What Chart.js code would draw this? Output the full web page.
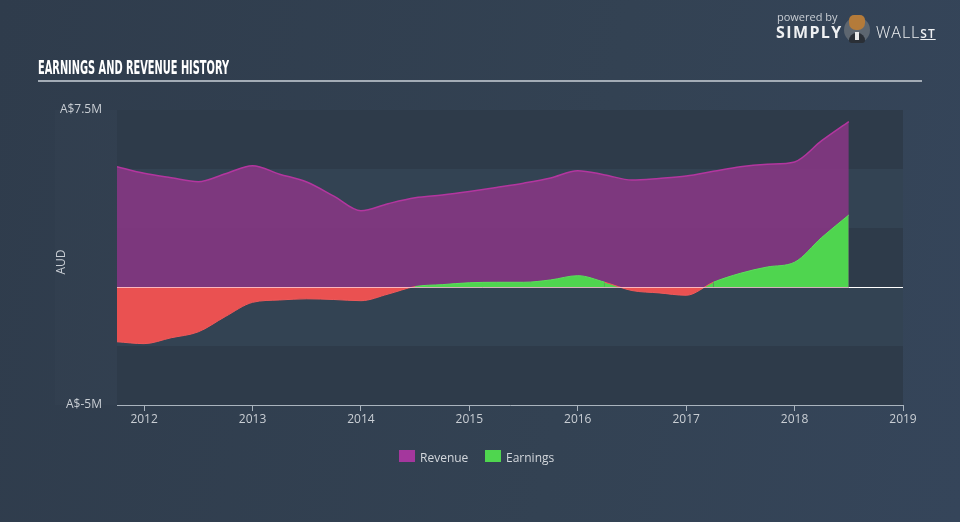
<!DOCTYPE html>
<html>
<head>
<meta charset="utf-8">
<script src="https://cdn.jsdelivr.net/npm/chart.js@4/dist/chart.umd.min.js"></script>
<style>
  html,body{margin:0;padding:0;}
  body{width:960px;height:522px;overflow:hidden;position:relative;
       background:linear-gradient(100deg,#2f3c4c 0%,#334253 60%,#35455a 100%);
       font-family:"Open Sans",sans-serif;}
  #wrap{position:absolute;left:0;top:0;width:960px;height:522px;}
  #title{position:absolute;left:38px;top:56px;font-family:"DejaVu Sans Condensed","DejaVu Sans";font-weight:bold;
         font-size:19px;color:#ffffff;white-space:nowrap;transform-origin:0 0;letter-spacing:0px;}
  #rule{position:absolute;left:38px;top:80px;width:884px;height:2px;background:#a3acb6;}
  .leg{position:absolute;top:449px;font-size:12px;color:#d3d7dc;font-family:"Open Sans",sans-serif;}
  .box{position:absolute;top:450px;width:16px;height:12px;}
  #logo1{position:absolute;left:777px;top:9px;font-size:11px;color:#c9ced4;font-family:"Open Sans",sans-serif;}
  #logo2{position:absolute;left:776px;top:21px;font-size:16px;font-weight:bold;color:#eef0f2;font-family:"Open Sans",sans-serif;letter-spacing:1.4px;}
  #logo3{position:absolute;left:876px;top:21px;font-size:16px;font-weight:300;color:#eef0f2;font-family:"Open Sans",sans-serif;letter-spacing:1px;}
  #bull{position:absolute;left:844px;top:17px;width:26px;height:26px;border-radius:50%;background:#5d6670;}
  #suit{position:absolute;left:849px;top:33px;width:16px;height:10px;border-radius:8px 8px 3px 3px;background:#2a2f36;}
  #shirt{position:absolute;left:855px;top:32px;width:4px;height:8px;background:#e9e9e9;}
  #bullhead{position:absolute;left:849px;top:15px;width:16px;height:15px;border-radius:5px 5px 7px 7px;background:#b47b3a;}
</style>
</head>
<body>
<div id="wrap"><canvas id="c" width="960" height="522"></canvas></div>
<div id="title">EARNINGS AND REVENUE HISTORY</div>
<div id="rule"></div>
<div id="logo1">powered by</div>
<div id="logo2">SIMPLY</div>
<div id="bull"></div><div id="suit"></div><div id="shirt"></div><div id="bullhead"></div>
<div id="logo3">WALL<span style="font-size:12px;font-weight:600;text-decoration:underline;">ST</span></div>
<div class="box" style="left:399px;background:#a4379d;"></div>
<div class="leg" style="left:420px;">Revenue</div>
<div class="box" style="left:485px;background:#4fd64f;"></div>
<div class="leg" style="left:506px;">Earnings</div>
<script>
// ---- data (AUD millions) ----
const periods = [2011.75,2012.0,2012.25,2012.5,2012.75,2013.0,2013.25,2013.5,2013.75,2014.0,
                 2014.25,2014.5,2014.75,2015.0,2015.25,2015.5,2015.75,2016.0,2016.25,2016.5,
                 2016.75,2017.0,2017.25,2017.5,2017.75,2018.0,2018.25,2018.5];
const revenue  = [5.10,4.82,4.63,4.46,4.80,5.14,4.78,4.45,3.85,3.23,
                  3.53,3.78,3.90,4.05,4.22,4.40,4.62,4.93,4.75,4.53,
                  4.60,4.70,4.90,5.10,5.20,5.30,6.20,7.01];
const earnings = [-2.32,-2.40,-2.15,-1.90,-1.25,-0.65,-0.55,-0.50,-0.53,-0.58,
                  -0.30,0.02,0.10,0.18,0.20,0.20,0.30,0.48,0.20,-0.15,
                  -0.25,-0.35,0.20,0.58,0.85,1.05,2.10,3.05];
const yearTicks = [2012,2013,2014,2015,2016,2017,2018,2019];
const yTicks = [-5,-2.5,0,2.5,5,7.5];
const yLabels = {"7.5":"A$7.5M","-5":"A$-5M"};

// fit title width
(function(){
  const t=document.getElementById('title');
  const w=t.getBoundingClientRect().width;
  t.style.transform='scaleX('+(191/w)+')';
})();

const bands = {
  id:'bands',
  beforeDraw(chart){
    const {ctx,chartArea:a,scales:{y}}=chart;
    ctx.save();
    ctx.fillStyle='rgba(255,255,255,0.012)';
    ctx.fillRect(55,a.top,a.left-55,a.bottom-a.top);
    for(let i=0;i<yTicks.length-1;i++){
      const y0=y.getPixelForValue(yTicks[i+1]), y1=y.getPixelForValue(yTicks[i]);
      ctx.fillStyle = (i%2===0)?'#2e3b4a':'#334353';
      ctx.fillRect(a.left,y0,a.right-a.left,y1-y0);
    }
    // AUD label
    ctx.translate(62,262);
    ctx.rotate(-Math.PI/2);
    ctx.fillStyle='#c9ced4';
    ctx.font='12px "Open Sans"';
    ctx.textAlign='center';ctx.textBaseline='middle';
    ctx.fillText('AUD',0,0);
    ctx.restore();
  },
  afterDatasetsDraw(chart){
    const {ctx,chartArea:a,scales:{x,y}}=chart;
    const yz=Math.round(y.getPixelForValue(0))+0.5;
    const xe=x.getPixelForValue(periods[periods.length-1]);
    ctx.save();
    ctx.lineWidth=1;
    ctx.strokeStyle='rgba(255,205,215,0.8)';
    ctx.beginPath();ctx.moveTo(a.left,yz);ctx.lineTo(xe,yz);ctx.stroke();
    ctx.strokeStyle='#ffffff';
    ctx.beginPath();ctx.moveTo(xe,yz);ctx.lineTo(a.right,yz);ctx.stroke();
    ctx.restore();
  }
};

new Chart(document.getElementById('c'),{
  type:'line',
  data:{
    datasets:[
      {label:'Revenue',data:periods.map((p,i)=>({x:p,y:revenue[i]})),
       borderColor:'#b3369f',borderWidth:1.5,backgroundColor:'rgba(140,55,135,0.84)',
       fill:'origin',pointRadius:0,tension:0.4,cubicInterpolationMode:'monotone',order:2},
      {label:'Earnings',data:periods.map((p,i)=>({x:p,y:earnings[i]})),
       borderWidth:1,
       segment:{borderColor:c=>(c.p0.parsed.y<0||c.p1.parsed.y<0)?'#f0595a':'#5be05b'},
       borderColor:'#5be05b',
       fill:{target:'origin',above:'#4fd54f',below:'#ea5151'},
       pointRadius:0,tension:0.4,cubicInterpolationMode:'monotone',order:1}
    ]
  },
  options:{
    responsive:false,animation:false,
    layout:{padding:{top:110,right:57,left:0,bottom:0}},
    plugins:{legend:{display:false},tooltip:{enabled:false}},
    scales:{
      x:{type:'linear',min:2011.75,max:2019,
         afterBuildTicks:s=>{s.ticks=yearTicks.map(v=>({value:v}));},
         afterFit:s=>{s.height=117;},
         grid:{drawOnChartArea:false,drawTicks:true,tickLength:6,color:'#aab4be'},
         border:{color:'#aab4be',width:1},
         ticks:{color:'#c9ced4',font:{family:'"Open Sans"',size:12},padding:1,
                callback:v=>String(v),maxRotation:0}},
      y:{type:'linear',min:-5,max:7.5,
         afterBuildTicks:s=>{s.ticks=yTicks.map(v=>({value:v}));},
         afterFit:s=>{s.width=117;},
         grid:{display:false,drawTicks:false},
         border:{display:false},
         ticks:{color:'#c9ced4',font:{family:'"Open Sans"',size:12},padding:15,
                callback:v=>yLabels[String(v)]||''}}
    }
  },
  plugins:[bands]
});
</script>
</body>
</html>
